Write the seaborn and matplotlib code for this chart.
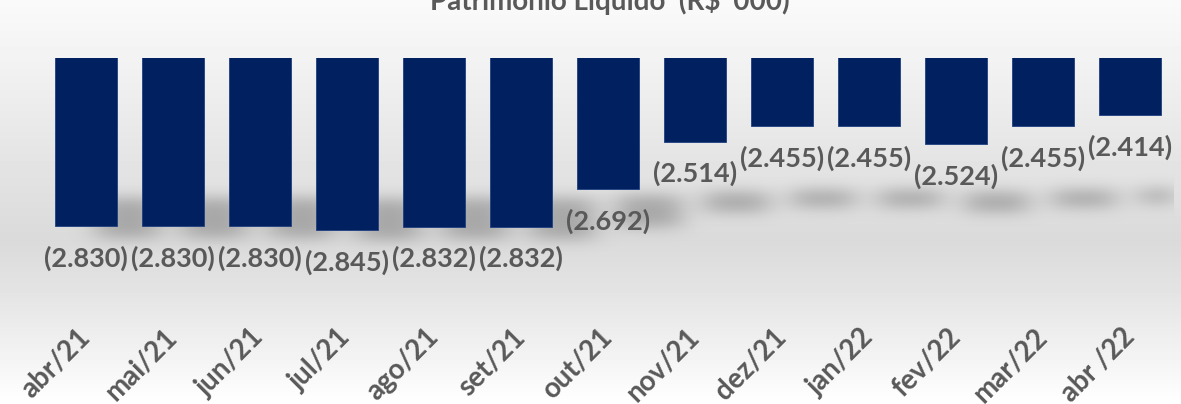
import numpy as np
import pandas as pd
import matplotlib.pyplot as plt
import seaborn as sns

months = ['abr/21', 'mai/21', 'jun/21', 'jul/21', 'ago/21', 'set/21', 'out/21',
          'nov/21', 'dez/21', 'jan/22', 'fev/22', 'mar/22', 'abr /22']
patrimonio = [-2830, -2830, -2830, -2845, -2832, -2832, -2692,
              -2514, -2455, -2455, -2524, -2455, -2414]
title = "Patrimônio Líquido  (R$ '000)"

y_top, y_bottom = -2200, -3100
bar_color = '#002060'
text_color = '#595959'

sns.set_style('white')
plt.rcParams['font.family'] = ['Lato', 'DejaVu Sans']
plt.rcParams['font.weight'] = 'bold'

df = pd.DataFrame({'mes': months, 'valor': patrimonio})

fig = plt.figure(figsize=(11.81, 4.04), dpi=100)

# background gradient (light top, darker middle, white bottom)
bg = fig.add_axes([0, 0, 1, 1], zorder=-10)
rows = np.arange(404)
shade = np.interp(rows, [0, 60, 150, 240, 300, 404], [0.98, 0.95, 0.90, 0.855, 0.90, 1.0])
grad = np.repeat(shade[:, None], 10, axis=1)
bg.imshow(grad, cmap='gray', vmin=0, vmax=1, aspect='auto', extent=(0, 1, 0, 1))
bg.set_axis_off()

ax = fig.add_axes([42.5 / 1181, (404 - 298) / 404, 1131 / 1181, 240 / 404])
ax.set_facecolor('none')

sns.barplot(data=df, x='mes', y='valor', color=bar_color, saturation=1, width=0.71,
            errorbar=None, edgecolor='#1f3f80', linewidth=0.6, ax=ax, zorder=3)
ax.set_ylim(y_bottom, y_top)
ax.set_xlim(-0.5, len(months) - 0.5)

# soft perspective shadow under each bar
nx, ny = 1131, 240
xs = np.linspace(-0.5, len(months) - 0.5, nx)
ys = np.linspace(y_top, y_bottom, ny)
mask = np.zeros((ny, nx))
for i, v in enumerate(patrimonio):
    h = abs(v) + y_top
    c = y_top - 476 - 0.2 * h
    hh = 0.12 * h
    x0, x1 = i - 0.36 + 0.47, i + 0.36 + 0.47
    inx = (xs >= x0) & (xs <= x1)
    iny = (ys <= c + hh) & (ys >= c - hh)
    mask[np.ix_(iny, inx)] = 1.0


def gauss(s):
    k = np.arange(-3 * s, 3 * s + 1)
    g = np.exp(-k ** 2 / (2 * s ** 2))
    return g / g.sum()


kx, ky = gauss(13), gauss(7)
mask = np.apply_along_axis(lambda r: np.convolve(r, kx, mode='same'), 1, mask)
mask = np.apply_along_axis(lambda col: np.convolve(col, ky, mode='same'), 0, mask)
rgba = np.zeros((ny, nx, 4))
rgba[..., :3] = 0.4
rgba[..., 3] = mask * 0.45
ax.imshow(rgba, extent=(-0.5, len(months) - 0.5, y_bottom, y_top), aspect='auto',
          zorder=1, interpolation='bilinear')
ax.set_ylim(y_bottom, y_top)

for i, v in enumerate(patrimonio):
    label = '({:,})'.format(abs(v)).replace(',', '.')
    ax.annotate(label, xy=(i, v), xytext=(0, -23), textcoords='offset points',
                ha='center', va='center', fontsize=19.5, fontweight='bold',
                color=text_color, zorder=5)

ax.set_xlabel('')
ax.set_ylabel('')
ax.set_yticks([])
ax.tick_params(axis='x', length=0, pad=25)
for lbl in ax.get_xticklabels():
    lbl.set_rotation(45)
    lbl.set_ha('right')
    lbl.set_va('center')
    lbl.set_rotation_mode('anchor')
    lbl.set_fontsize(20)
    lbl.set_fontweight('bold')
    lbl.set_color(text_color)
sns.despine(ax=ax, left=True, bottom=True)

fig.text(610 / 1181, 1 - 10 / 404, title, ha='center', va='baseline',
         fontsize=20, fontweight='bold', color=text_color)

fig.savefig('out.png', dpi=100)
